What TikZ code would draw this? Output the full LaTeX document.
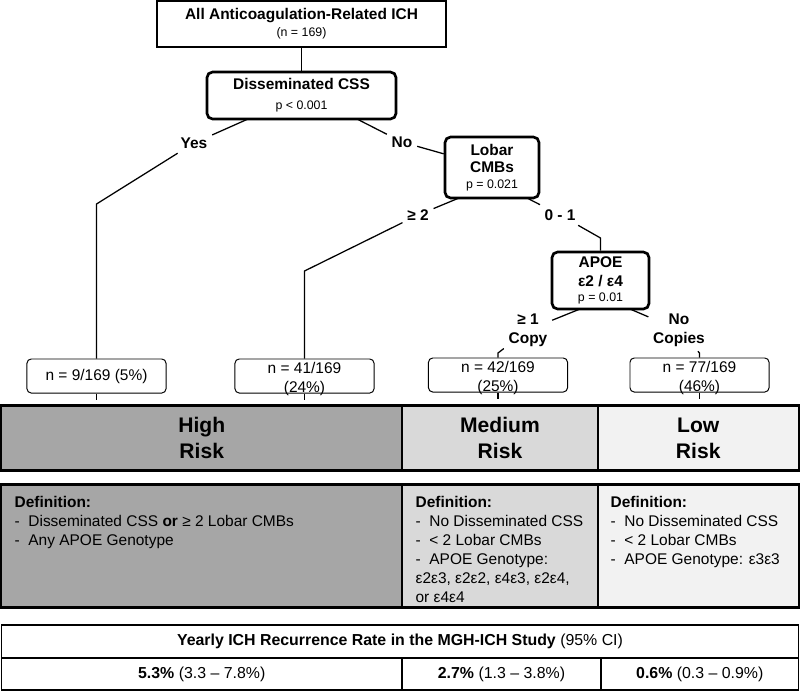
\documentclass[tikz,border=0pt]{standalone}
\usepackage{fontspec}
\setmainfont{Liberation Sans}
\usepackage{tikz}

\definecolor{highgray}{RGB}{166,166,166}
\definecolor{medgray}{RGB}{217,217,217}
\definecolor{lowgray}{RGB}{242,242,242}

\tikzset{
  tbox/.style={draw, line width=1.9pt, rounded corners=4pt, align=center, inner sep=1pt,
    font=\bfseries\fontsize{11}{12.5}\selectfont},
  nbox/.style={draw, line width=0.7pt, rounded corners=3pt, align=center, inner xsep=2pt,
    inner ysep=0pt, minimum width=3.475cm, minimum height=0.85cm,
    font=\fontsize{11}{13.5}\selectfont},
  lbl/.style={align=center, inner sep=3pt, font=\bfseries\fontsize{11}{13.5}\selectfont},
  risk/.style={draw, line width=0.8pt, align=center, minimum height=1.6cm,
    font=\bfseries\fontsize{15}{18.5}\selectfont},
  defcell/.style={draw, line width=0.8pt, minimum height=3.05cm},
  deftext/.style={anchor=north west, align=left, inner sep=0pt, font=\fontsize{11}{13.5}\selectfont},
  rate/.style={draw, line width=1.2pt, minimum height=0.8cm, font=\fontsize{11.3}{13}\selectfont}
}
\newcommand{\pval}[1]{{\normalfont\fontsize{8.8}{10}\selectfont #1}}
\newcommand{\itm}{\makebox[9.8pt][l]{-}}
% two-line count, second line hangs over the lower edge
\newcommand{\ntwo}[2]{\rule{0pt}{10.6pt}#1\\\smash{#2}}

\begin{document}
\begin{tikzpicture}[x=0.025cm, y=-0.025cm, line width=0.9pt]
\useasboundingbox (0,0) rectangle (800,691);

% decision tree
\node[tbox, rounded corners=0pt, minimum width=7.225cm, minimum height=1.15cm] (top) at (301.5,24)
  {All Anticoagulation-Related ICH\\[-0.5pt]\pval{(n = 169)}};
\node[tbox, minimum width=4.725cm, minimum height=1.175cm] (css) at (301.5,95.5)
  {Disseminated CSS\\[1.7pt]\pval{p < 0.001}};
\node[tbox, minimum width=2.35cm, minimum height=1.525cm] (lobar) at (492,167.5)
  {Lobar\\[-0.5pt]CMBs\\[-1pt]\pval{p = 0.021}};
\node[tbox, minimum width=2.425cm, minimum height=1.425cm] (apoe) at (600.5,280.5)
  {APOE\\[1pt]ε2 / ε4\\[-2pt]\pval{p = 0.01}};

\node[lbl] (yes) at (194,143) {Yes};
\node[lbl] (no) at (402,142) {No};
\node[lbl] (ge) at (418,215) {≥ 2};
\node[lbl] (zo) at (560,215) {0 - 1};
\node[lbl] (copy) at (528,330) {≥ 1\\Copy};
\node[lbl] (nocp) at (679,330) {No\\Copies};

\node[nbox] (n9) at (96.5,376) {n = 9/169 (5\%)};
\node[nbox] (n41) at (304.5,376) {\ntwo{n = 41/169}{(24\%)}};
\node[nbox] (n42) at (498,375) {\ntwo{n = 42/169}{(25\%)}};
\node[nbox] (n77) at (699.5,375) {\ntwo{n = 77/169}{(46\%)}};

\coordinate (cssY) at (248,119);
\coordinate (cssN) at (357,119);
\coordinate (yesB) at (96.5,204);
\coordinate (lobG) at (459,198);
\coordinate (lobZ) at (527,198);
\coordinate (geB) at (304.5,271);
\coordinate (zoB) at (600.5,238);
\coordinate (apC) at (580,309);
\coordinate (apN) at (630,309);
\coordinate (cpB) at (498,353);
\coordinate (ncB) at (699.5,353);

\draw (top) -- (css);
\draw (cssY) -- (yes);
\draw (yes) -- (yesB) -- (n9);
\draw (cssN) -- (no);
\draw (no) -- (lobar);
\draw (lobG) -- (ge);
\draw (ge) -- (geB) -- (n41);
\draw (lobZ) -- (zo);
\draw (zo) -- (zoB) -- (apoe);
\draw (apC) -- (copy);
\draw (copy) -- (cpB) -- (n42);
\draw (apN) -- (nocp);
\draw (nocp) -- (ncB) -- (n77);
\foreach \b in {n9,n41,n42,n77}
\draw (\b.south) -- ++(0,6);

% risk groups
\node[risk, fill=highgray, minimum width=10.0125cm] (high) at (201.75,438) {High\\Risk};
\node[risk, fill=medgray, minimum width=4.9cm] (medium) at (500,438) {Medium\\Risk};
\node[risk, fill=lowgray, minimum width=5.0125cm] (low) at (698.25,438) {Low\\Risk};
\draw[line width=2pt] (high.north west) rectangle (low.south east);

\node[defcell, fill=highgray, minimum width=10.0125cm] (defH) at (201.75,546) {};
\node[defcell, fill=medgray, minimum width=4.9cm] (defM) at (500,546) {};
\node[defcell, fill=lowgray, minimum width=5.0125cm] (defL) at (698.25,546) {};
\draw[line width=2pt] (defH.north west) rectangle (defL.south east);

\node[deftext] (txtH) at (14,496) {\textbf{Definition:}\\
  \itm Disseminated CSS \textbf{or} ≥ 2 Lobar CMBs\\
  \itm Any APOE Genotype};
\node[deftext] (txtM) at (415,496) {\textbf{Definition:}\\
  \itm No Disseminated CSS\\
  \itm < 2 Lobar CMBs\\
  \itm APOE Genotype:\\
  ε2ε3, ε2ε2, ε4ε3, ε2ε4,\\
  or ε4ε4};
\node[deftext] (txtL) at (610,496) {\textbf{Definition:}\\
  \itm No Disseminated CSS\\
  \itm < 2 Lobar CMBs\\
  \itm APOE Genotype: ε3ε3};

% recurrence table
\node[rate, minimum width=19.925cm, minimum height=0.825cm] (rhead) at (400,641.5)
  {\textbf{Yearly ICH Recurrence Rate in the MGH-ICH Study} (95\% CI)};
\node[rate, minimum width=10.0125cm] (rhigh) at (201.75,674) {\textbf{5.3\%} (3.3 – 7.8\%)};
\node[rate, minimum width=4.975cm] (rmed) at (501.5,674) {\textbf{2.7\%} (1.3 – 3.8\%)};
\node[rate, minimum width=4.9375cm] (rlow) at (699.75,674) {\textbf{0.6\%} (0.3 – 0.9\%)};
\end{tikzpicture}
\end{document}
